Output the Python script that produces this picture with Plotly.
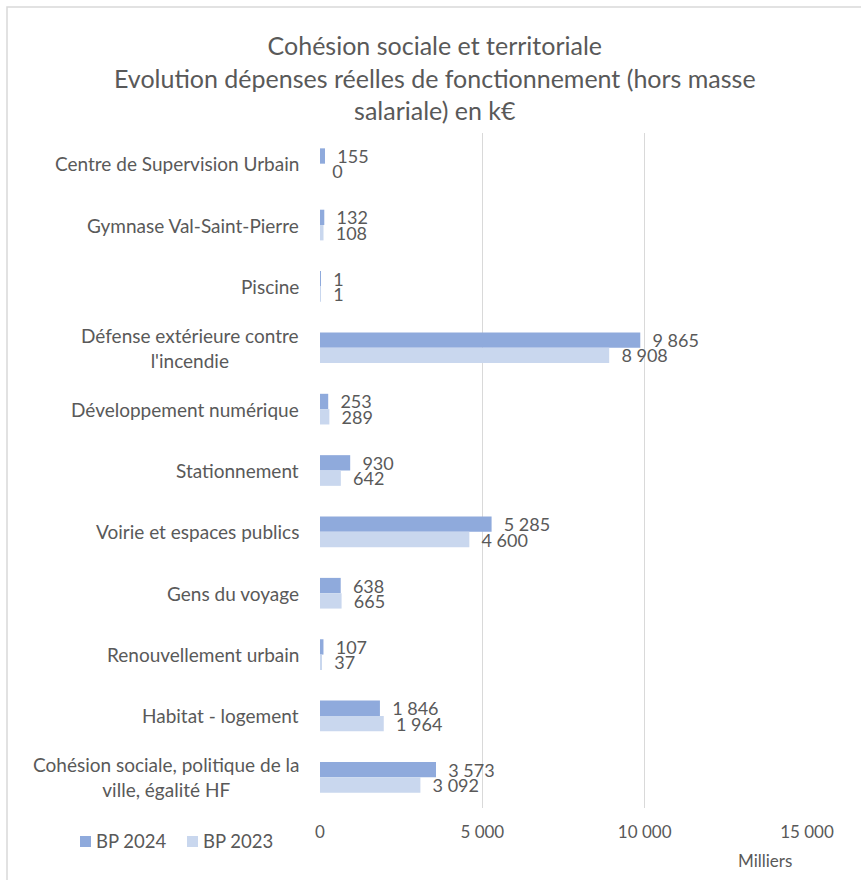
import plotly.graph_objects as go

categories = [
    "Centre de Supervision Urbain",
    "Gymnase Val-Saint-Pierre",
    "Piscine",
    "Défense extérieure contre<br>l'incendie",
    "Développement numérique",
    "Stationnement",
    "Voirie et espaces publics",
    "Gens du voyage",
    "Renouvellement urbain",
    "Habitat - logement",
    "Cohésion sociale, politique de la<br>ville, égalité HF",
]
bp2024 = [155, 132, 1, 9865, 253, 930, 5285, 638, 107, 1846, 3573]
bp2023 = [0, 108, 1, 8908, 289, 642, 4600, 665, 37, 1964, 3092]
series_names = ["BP 2024", "BP 2023"]
tick_vals = [0, 5000, 10000, 15000]
tick_text = ["0", "5 000", "10 000", "15 000"]

FONT = "Lato"
TXT = "#595959"
C24 = "#8FAADC"
C23 = "#C9D7EE"


def fmt(v):
    return "\u00a0\u00a0" + f"{v:,}".replace(",", " ")


W, H = 861, 880
L, R, T, B = 320, 54, 133, 72
pw = W - L - R
ph = H - T - B


def px_x(p):
    return (p - L) / pw


def px_y(p):
    return (H - B - p) / ph


fig = go.Figure()
for name, vals, col in [(series_names[0], bp2024, C24), (series_names[1], bp2023, C23)]:
    fig.add_trace(go.Bar(
        y=categories, x=vals, name=name, orientation="h",
        marker=dict(color=col, line=dict(width=0)),
        text=[fmt(v) for v in vals], textposition="outside",
        constraintext="none",
        textfont=dict(family=FONT, size=18, color=TXT), cliponaxis=False,
        showlegend=False,
    ))

annotations = []
for c in categories:
    annotations.append(dict(
        x=0, xref="paper", y=c, yref="y", text=c, showarrow=False,
        xanchor="right", xshift=-19, align="center",
        font=dict(family=FONT, size=19, color=TXT),
    ))
annotations.append(dict(
    x=px_x(765), xref="paper", y=px_y(860), yref="paper",
    text="Milliers", showarrow=False, xanchor="center", yanchor="middle",
    font=dict(family=FONT, size=17, color=TXT),
))

# manual legend (layout decoration)
shapes = []
for i, (name, col) in enumerate([(series_names[0], C24), (series_names[1], C23)]):
    sx = 80 + i * 107
    shapes.append(dict(
        type="rect", xref="paper", yref="paper",
        x0=px_x(sx), x1=px_x(sx + 11), y0=px_y(847), y1=px_y(836),
        fillcolor=col, line=dict(width=0),
    ))
    annotations.append(dict(
        x=px_x(sx + 14), xref="paper", y=px_y(841), yref="paper",
        text=name, showarrow=False, xanchor="left", yanchor="middle",
        font=dict(family=FONT, size=18.5, color=TXT),
    ))

shapes.append(dict(
    type="rect", xref="paper", yref="paper",
    x0=px_x(7), x1=px_x(W + 20),
    y0=px_y(H + 20), y1=px_y(7),
    line=dict(color="#D9D9D9", width=1.5), layer="below",
))

fig.update_layout(
    width=W, height=H,
    margin=dict(l=L, r=R, t=T, b=B),
    paper_bgcolor="white", plot_bgcolor="white",
    barmode="group", bargap=0.5, bargroupgap=0,
    showlegend=False,
    title=dict(
        text="Cohésion sociale et territoriale<br>Evolution dépenses réelles de fonctionnement (hors masse<br>salariale) en k€",
        x=0.505, xanchor="center", y=1 - 55 / H, yanchor="top",
        font=dict(family=FONT, size=25, color=TXT),
    ),
    xaxis=dict(
        range=[0, 15000], tickvals=tick_vals, ticktext=tick_text,
        showgrid=True, gridcolor="#D9D9D9", gridwidth=1,
        zeroline=False, showline=False, ticks="",
        ticklabelstandoff=12,
        tickfont=dict(family=FONT, size=17, color=TXT),
    ),
    yaxis=dict(
        autorange="reversed", showticklabels=False, showgrid=False,
        zeroline=False, showline=False, ticks="",
    ),
    annotations=annotations,
    shapes=shapes,
)

fig.write_html("out.html")
